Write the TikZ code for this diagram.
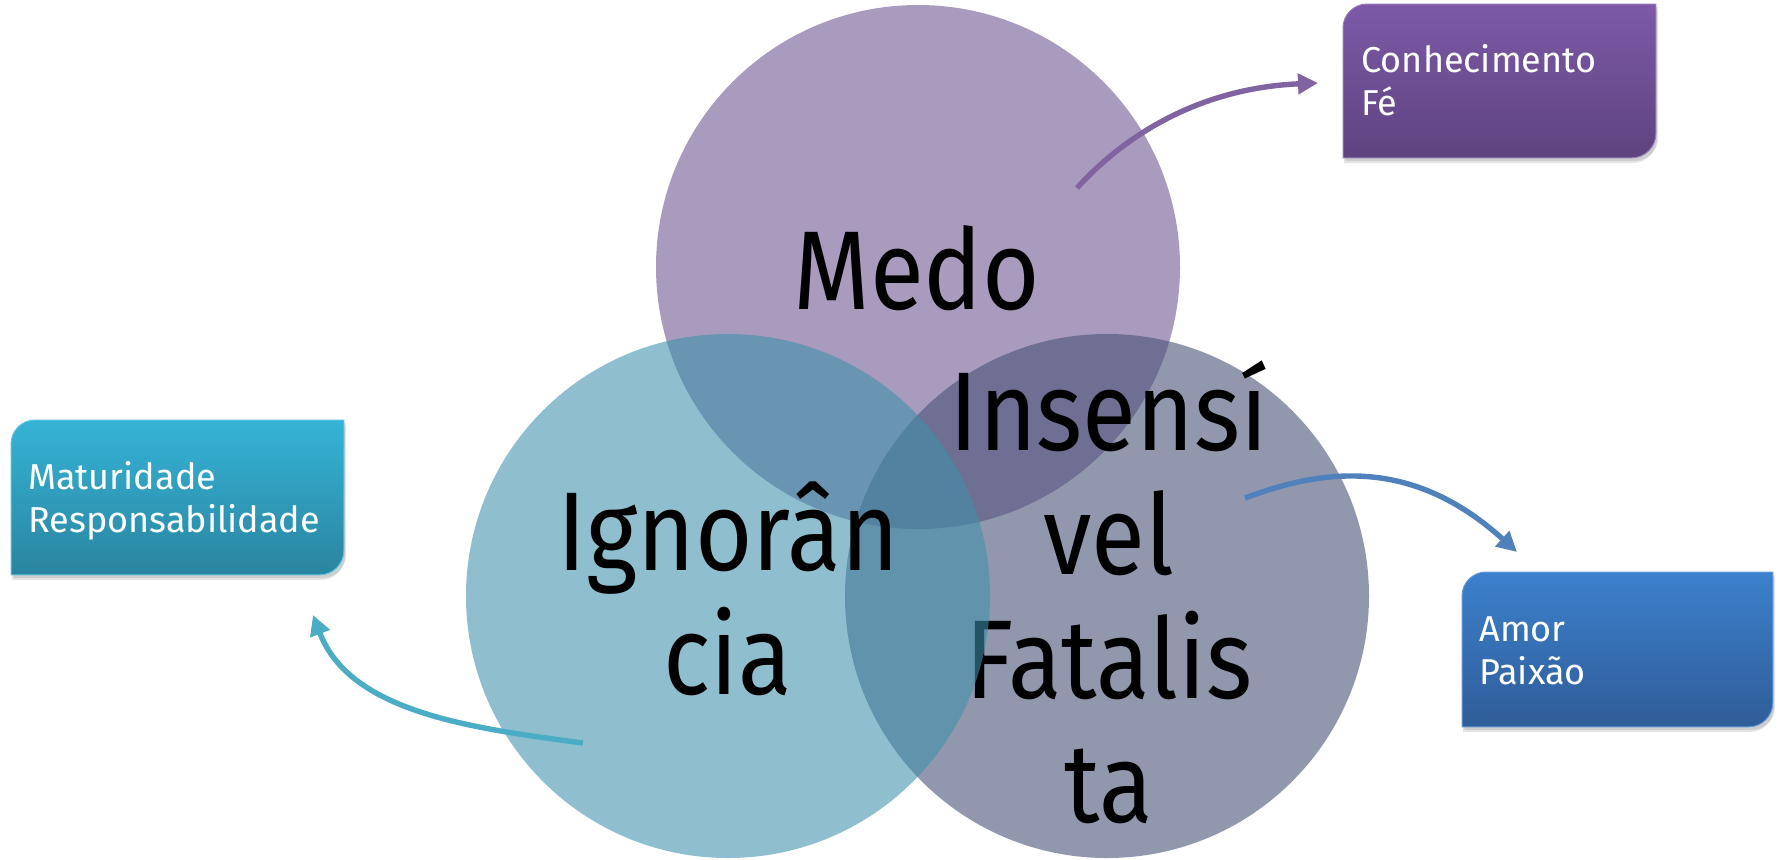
\documentclass[tikz,border=0pt]{standalone}
\usepackage{fontspec}
\setmainfont{Fira Sans}
\newfontfamily\bigfont[FakeStretch=0.88]{Fira Sans}
\usetikzlibrary{arrows.meta,backgrounds}
\definecolor{topc}{HTML}{A99BBD}
\definecolor{rightc}{HTML}{485276}
\definecolor{leftc}{HTML}{3E91AB}
\definecolor{arrP}{HTML}{8064A2}
\definecolor{arrT}{HTML}{4BACC6}
\definecolor{arrB}{HTML}{4F81BD}
\definecolor{conhT}{HTML}{7D59A8}
\definecolor{conhB}{HTML}{5E437F}
\definecolor{matT}{HTML}{35B3D7}
\definecolor{matB}{HTML}{2A859F}
\definecolor{amoT}{HTML}{3C80CD}
\definecolor{amoB}{HTML}{2F5D98}
\newcommand\tabshape[1]{([yshift=-12pt]#1.north west) .. controls ([yshift=-5.4pt]#1.north west) and ([xshift=5.4pt]#1.north west) .. ([xshift=12pt]#1.north west) -- (#1.north east) -- ([yshift=12pt]#1.south east) .. controls ([yshift=5.4pt]#1.south east) and ([xshift=-5.4pt]#1.south east) .. ([xshift=-12pt]#1.south east) -- (#1.south west) -- cycle}
\begin{document}
\begin{tikzpicture}[x=0.5pt,y=-0.5pt,
  circ/.style={circle, inner sep=0pt, minimum size=262pt},
  big/.style={font=\bigfont\fontsize{56}{62}\selectfont, text=black, inner sep=0pt, align=center},
  small/.style={font=\fontsize{18}{21.5}\selectfont, text=white, inner sep=0pt, align=left},
  tab/.style={rectangle, inner sep=0pt, anchor=north west},
  conn/.style={line width=2.7pt, -{Triangle[length=10pt,width=10pt]}}]
\useasboundingbox (0,0) rectangle (1779,859);

% boxes
\node[tab, minimum width=156pt, minimum height=76.5pt] (conhbox) at (1343,4) {};
\node[tab, minimum width=166pt, minimum height=77pt] (maturbox) at (11,420) {};
\node[tab, minimum width=155pt, minimum height=77pt] (amorbox) at (1462,572) {};
\begin{scope}[on background layer]
  \foreach \b/\ct/\cb in {conhbox/conhT/conhB, maturbox/matT/matB, amorbox/amoT/amoB}{
    \fill[black, opacity=0.10, transform canvas={shift={(0.6pt,-2.6pt)}}] \tabshape{\b};
    \fill[black, opacity=0.10, transform canvas={shift={(1.2pt,-1.6pt)}}] \tabshape{\b};
    \shade[top color=\ct, bottom color=\cb, draw=\ct!80!white, line width=0.5pt] \tabshape{\b};
  }
\end{scope}
% (anchor=base of a multi-line node is the baseline of its last line)
\node[small, anchor=base west] (conh) at (1361,115) {Conhecimento\\Fé};
\node[small, anchor=base west] (matur) at (28,532) {Maturidade\\Responsabilidade};
\node[small, anchor=base west] (amor) at (1479,684) {Amor\\Paixão};

% circles
\node[circ, fill=topc] (medo) at (918,267) {};
\node[big, anchor=base] (medoT) at (917,309) {Medo};
\node[circ, fill=rightc, fill opacity=0.6] (insens) at (1107,596) {};
\node[big, anchor=base] (insT) at (1109,822) {Insensí\\vel\\Fatalis\\ta};
\node[circ, fill=leftc, fill opacity=0.58] (ignor) at (728,596) {};
\node[big, anchor=base] (ignT) at (728,694) {Ignorân\\cia};

% connectors
\coordinate (medoOut) at (1077,188);
\coordinate (conhIn) at (1318,83);
\coordinate (insOut) at (1245,498);
\coordinate (amorIn) at (1517,552);
\coordinate (ignOut) at (583,743);
\coordinate (maturIn) at (313,615);
\draw[conn, draw=arrP] (medoOut) .. controls (1125,135) and (1200,88) .. (conhIn);
\draw[conn, draw=arrB] (insOut) .. controls (1320,470) and (1410,455) .. (amorIn);
\draw[conn, draw=arrT] (ignOut) .. controls (470,728) and (350,712) .. (maturIn);
\end{tikzpicture}
\end{document}
